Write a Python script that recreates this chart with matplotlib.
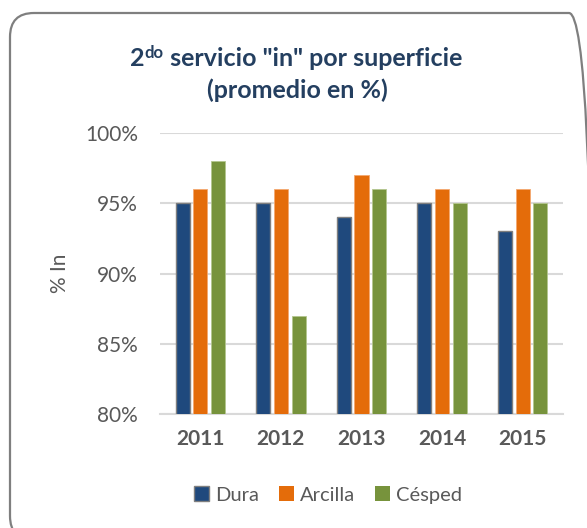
import matplotlib
matplotlib.use("Agg")
import matplotlib.pyplot as plt
import numpy as np
from matplotlib.patches import FancyBboxPatch, Patch
from matplotlib.transforms import IdentityTransform

years = ["2011", "2012", "2013", "2014", "2015"]
dura = [95, 95, 94, 95, 93]
arcilla = [96, 96, 97, 96, 96]
cesped = [98, 87, 96, 95, 95]
yticks = [80, 85, 90, 95, 100]

plt.rcParams['font.family'] = ['Lato', 'DejaVu Sans']

fig = plt.figure(figsize=(5.87, 5.28), dpi=100)
ax = fig.add_axes([0.2726, 0.2159, 0.6865, 0.5322])

# rounded chart border, in pixels (right/bottom edges fall just outside)
border = FancyBboxPatch((10, -12), 583, 527,
                        boxstyle="round,pad=0,rounding_size=24",
                        transform=IdentityTransform(), facecolor="none",
                        edgecolor="#7f7f7f", linewidth=1.6, clip_on=False)
fig.patches.append(border)

x = np.arange(len(years))
width = 0.175
step = 0.22
ax.bar(x - step, dura, width, color="#1f497d", edgecolor="#7f7f7f", linewidth=1.0, label="Dura", zorder=3)
ax.bar(x, arcilla, width, color="#e46c0a", edgecolor="#f4a870", linewidth=0.6, label="Arcilla", zorder=3)
ax.bar(x + step, cesped, width, color="#77933c", edgecolor="#b3c68e", linewidth=0.6, label="Césped", zorder=3)

ax.set_xlim(-0.5, len(years) - 0.5)
ax.set_ylim(80, 100)
ax.set_yticks(yticks)
ax.set_yticklabels(["%d%%" % v for v in yticks], fontsize=15, color="#595959")
ax.set_xticks(x)
ax.set_xticklabels(years, fontsize=15, fontweight="bold", color="#595959")
ax.tick_params(axis="both", length=0)
ax.tick_params(axis="y", pad=16)
ax.tick_params(axis="x", pad=11)
ax.yaxis.grid(True, color="#d9d9d9", linewidth=1.5, zorder=0)
ax.set_axisbelow(True)
for s in ["top", "right", "left"]:
    ax.spines[s].set_visible(False)
ax.spines["bottom"].set_color("#d9d9d9")
ax.spines["bottom"].set_linewidth(1.5)
ax.set_ylabel("% In", fontsize=15, color="#595959", labelpad=11)

# title with superscript
title_color = "#243f60"
renderer = fig.canvas.get_renderer()
parts = [("2", 18, 0.0), ("do", 12, 8.0), (' servicio "in" por superficie', 18, 0.0)]
texts = []
for s, fs, dy in parts:
    t = fig.text(0, 0, s, fontsize=fs, fontweight="bold", color=title_color, va="baseline")
    texts.append((t, dy))
widths = [t.get_window_extent(renderer).width for t, _ in texts]
total = sum(widths)
cx = 296
base = 528 - 66
xpos = cx - total / 2
for (t, dy), w in zip(texts, widths):
    t.set_position((xpos / 587, (base + dy) / 528))
    xpos += w
fig.text(297 / 587, 1 - 98 / 528, "(promedio en %)", fontsize=18, fontweight="bold",
         color=title_color, ha="center", va="baseline")

handles = [Patch(facecolor="#1f497d", edgecolor="#7f7f7f"),
           Patch(facecolor="#e46c0a"),
           Patch(facecolor="#77933c")]
fig.legend(handles, ["Dura", "Arcilla", "Césped"], loc="center", bbox_to_anchor=(328 / 587, 1 - 495 / 528),
           ncol=3, frameon=False, fontsize=14.5, handlelength=0.75, handleheight=0.75,
           handletextpad=0.3, columnspacing=1.0, labelcolor="#595959")

fig.savefig("out.png", dpi=100)
